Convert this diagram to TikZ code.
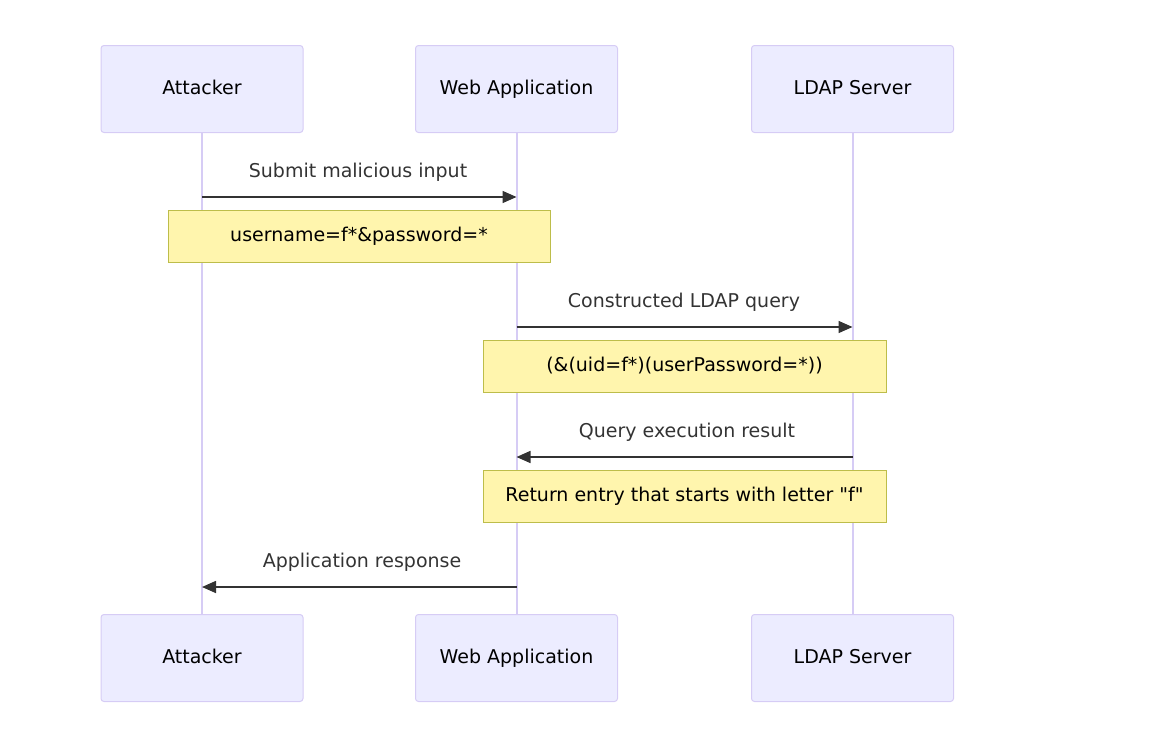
\documentclass[tikz,border=0pt]{standalone}
\usepackage{fontspec}
\newfontfamily\mainfam{DejaVu Sans}
\usetikzlibrary{arrows.meta}
\definecolor{actfill}{HTML}{ECECFF}
\definecolor{actline}{HTML}{D6CCF5}
\definecolor{lifeline}{HTML}{D6CCF5}
\definecolor{notefill}{HTML}{FFF5AD}
\definecolor{noteline}{HTML}{BDBD4A}
\definecolor{msg}{HTML}{333333}
\begin{document}
\begin{tikzpicture}[x=1pt,y=-1pt,
  actor/.style={draw=actline, fill=actfill, line width=1pt, rounded corners=3pt,
    minimum width=202pt, minimum height=87pt, font=\mainfam\fontsize{19}{22}\selectfont, text=black, inner sep=0pt,
    text height=14pt, text depth=4pt},
  notebox/.style={draw=noteline, fill=notefill, line width=1pt,
    minimum height=52pt, font=\mainfam\fontsize{19}{22}\selectfont, text=black, inner sep=0pt,
    text height=14pt, text depth=4pt},
  msgline/.style={draw=msg, line width=1.6pt, -{Triangle[length=14pt,width=12pt]}},
  msglabel/.style={font=\mainfam\fontsize{19}{22}\selectfont, text=msg, text height=14pt, text depth=4pt},
  life/.style={draw=lifeline, line width=2pt}]
\useasboundingbox (0,0) rectangle (1154,739);
% actors
\node[actor] (a1) at (202,89) {Attacker};
\node[actor] (w1) at (516.5,89) {Web Application};
\node[actor] (l1) at (852.5,89) {LDAP Server};
\node[actor] (a2) at (202,658) {Attacker};
\node[actor] (w2) at (516.5,658) {Web Application};
\node[actor] (l2) at (852.5,658) {LDAP Server};
% lifelines
\draw[life] (a1.south) -- (a2.north);
\draw[life] (w1.south) -- (w2.north);
\draw[life] (l1.south) -- (l2.north);
% message coordinates
\coordinate (m1s) at (202,197); \coordinate (m1e) at (516.5,197);
\coordinate (m2s) at (516.5,327); \coordinate (m2e) at (852.5,327);
\coordinate (m3s) at (852.5,457); \coordinate (m3e) at (516.5,457);
\coordinate (m4s) at (516.5,587); \coordinate (m4e) at (202,587);
% notes
\node[notebox, minimum width=382pt] (n1) at (359,236.5) {username=f*\&password=*};
\node[notebox, minimum width=403pt] (n2) at (684.5,366.5) {(\&(uid=f*)(userPassword=*))};
\node[notebox, minimum width=403pt] (n3) at (684.5,496.5) {Return entry that starts with letter "f"};
% messages
\draw[msgline] (m1s) -- (m1e);
\node[msglabel] (t1) at (358,172) {Submit malicious input};
\draw[msgline] (m2s) -- (m2e);
\node[msglabel] (t2) at (684,302) {Constructed LDAP query};
\draw[msgline] (m3s) -- (m3e);
\node[msglabel] (t3) at (687,432) {Query execution result};
\draw[msgline] (m4s) -- (m4e);
\node[msglabel] (t4) at (362,562) {Application response};
\end{tikzpicture}
\end{document}
